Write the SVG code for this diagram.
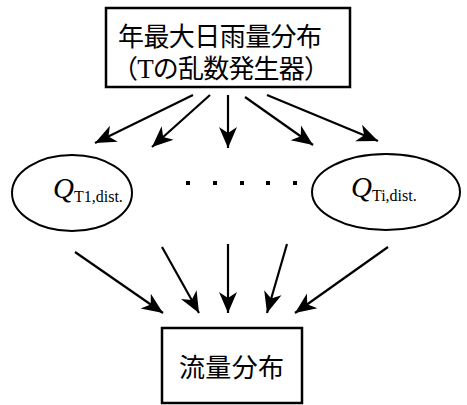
<svg xmlns="http://www.w3.org/2000/svg" width="467" height="405" viewBox="0 0 467 405">
<style>
.box{fill:#fff;stroke:#000;stroke-width:2.5}
.ell{fill:#fff;stroke:#000;stroke-width:2}
.cjk{font-family:"Noto Sans CJK JP","Noto Sans CJK SC",sans-serif;font-size:26px;fill:#000}
.q{font-family:"Liberation Serif",serif;font-style:italic;font-size:29px;fill:#000}
.sub{font-family:"Liberation Serif",serif;font-style:normal;font-size:16px}
.ln{stroke:#000;stroke-width:2.2;fill:none;marker-end:url(#ah)}
</style>
<defs>
<marker id="ah" markerUnits="userSpaceOnUse" markerWidth="22" markerHeight="20" refX="21" refY="10" orient="auto">
<path d="M0,1 L21,10 L0,19 L6,10 z" fill="#000"/>
</marker>
</defs>
<g id="top">
<rect class="box" x="106" y="8" width="244" height="79"/>
<text class="cjk" x="118" y="46" textLength="204">年最大日雨量分布</text>
<text class="cjk" x="112" y="78" textLength="218">（<tspan font-family="Liberation Serif" font-size="27">T</tspan>の乱数発生器）</text>
</g>
<g id="q1">
<ellipse class="ell" cx="72" cy="193" rx="60" ry="38"/>
<text class="q" x="53" y="198">Q<tspan class="sub" dy="4">T1,dist.</tspan></text>
</g>
<g id="qi">
<ellipse class="ell" cx="386" cy="192" rx="74" ry="38"/>
<text class="q" x="351" y="197">Q<tspan class="sub" dy="4">Ti,dist.</tspan></text>
</g>
<g id="dots" fill="#000">
<rect x="186" y="181" width="4" height="4"/>
<rect x="213" y="181" width="4" height="4"/>
<rect x="240" y="181" width="4" height="4"/>
<rect x="266" y="181" width="4" height="4"/>
<rect x="293" y="181" width="4" height="4"/>
</g>
<g id="bottom">
<rect class="box" x="162" y="328" width="140" height="75"/>
<text class="cjk" x="179" y="377" textLength="105">流量分布</text>
</g>
<g id="connectors">
<line class="ln" x1="193" y1="95" x2="95" y2="143"/>
<line class="ln" x1="210" y1="95" x2="152" y2="147"/>
<line class="ln" x1="228" y1="95" x2="228" y2="148"/>
<line class="ln" x1="245" y1="97" x2="313" y2="145"/>
<line class="ln" x1="267" y1="95" x2="378" y2="141"/>
<line class="ln" x1="75" y1="252" x2="163" y2="313"/>
<line class="ln" x1="162" y1="247" x2="199" y2="313"/>
<line class="ln" x1="228" y1="244" x2="228" y2="313"/>
<line class="ln" x1="287" y1="244" x2="267" y2="313"/>
<line class="ln" x1="388" y1="247" x2="295" y2="313"/>
</g>
</svg>
